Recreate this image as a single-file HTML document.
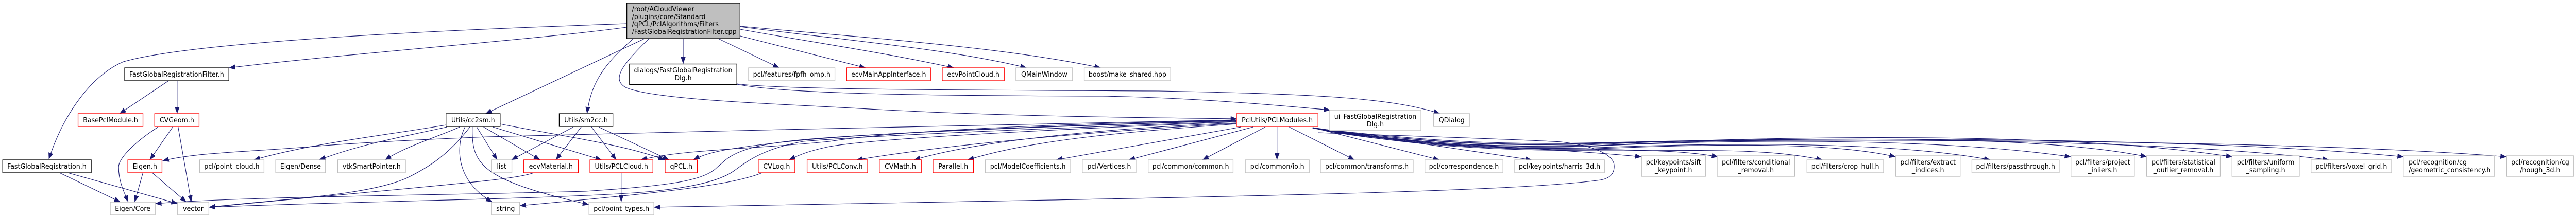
<!DOCTYPE html>
<html><head><meta charset="utf-8"><style>
html,body{margin:0;padding:0;background:#fff;width:100%;height:100%;overflow:hidden}
svg{display:block;position:fixed;left:0;top:0;width:100vw;height:100vh}
text{font-family:"DejaVu Sans",sans-serif;font-size:13.33px;fill:#000;text-anchor:middle}
text.l{text-anchor:start}
.e path{fill:none;stroke:#191970;stroke-width:1.1;marker-end:url(#a)}
rect{fill:#fff;stroke-width:1.33}
.k{stroke:#000}.r{stroke:#f00}.g{stroke:#bfbfbf}
</style></head><body>
<svg xmlns="http://www.w3.org/2000/svg" viewBox="0 0 5279 424" preserveAspectRatio="none">
<defs><marker id="a" markerUnits="userSpaceOnUse" markerWidth="16" markerHeight="12" refX="13" refY="5" orient="auto"><path d="M0,0 L13,5 L0,10 z" fill="#191970"/></marker></defs>
<g class="e">
<path d="M1284 46C1050 54 420 75 253 120C190 145 130 220 100 310"/>
<path d="M1284 53C1100 77 700 105 469 132"/>
<path d="M344 158L245 221"/>
<path d="M363 157L363 221"/>
<path d="M354 247L307 311"/>
<path d="M365 247L392 393"/>
<path d="M324 247C270 280 243 310 243 325C243 350 252 370 263 393"/>
<path d="M293 336L276 393"/>
<path d="M312 336L382 393"/>
<path d="M122 336L247 393"/>
<path d="M139 336L364 396"/>
<path d="M914 243C800 262 640 278 520 311"/>
<path d="M916 247C830 265 740 280 654 311"/>
<path d="M942 247C900 265 830 285 789 311"/>
<path d="M963 247C920 300 880 325 832 347C750 380 600 385 428 403"/>
<path d="M2534 233C2100 244 1500 252 1000 266C800 274 700 280 640 285C520 295 400 296 333 313"/>
<path d="M1175 247L1048 311"/>
<path d="M1191 247L1139 311"/>
<path d="M1212 247L1263 311"/>
<path d="M1227 247L1371 311"/>
<path d="M977 247L1019 311"/>
<path d="M991 247L1107 311"/>
<path d="M1010 247L1233 311"/>
<path d="M1025 241C1120 260 1280 280 1362 311"/>
<path d="M953 247C935 280 930 350 1009 393"/>
<path d="M968 247C966 320 985 350 1207 398"/>
<path d="M1319 76L995 221"/>
<path d="M1297 76C1230 130 1210 170 1203 221"/>
<path d="M1329 76C1270 130 1255 155 1282 170C1340 195 1600 202 1800 213C2050 226 2350 229 2535 231"/>
<path d="M1400 76L1400 124"/>
<path d="M1474 76L1597 132"/>
<path d="M1517 70L1774 132"/>
<path d="M1517 57C1650 80 1800 100 1955 132"/>
<path d="M1517 52C1700 75 1950 95 2104 132"/>
<path d="M1517 51C1750 72 2050 90 2256 132"/>
<path d="M1510 164C1600 180 1800 186 2259 187C2450 190 2620 205 2726 214"/>
<path d="M1510 163C1600 175 2000 175 2374 177C2700 183 2850 190 2951 221"/>
<path d="M2534 234C2200 240 1850 252 1700 275C1550 290 1400 290 1313 311"/>
<path d="M2534 234C2200 244 1800 255 1589 278C1500 288 1450 295 1421 311"/>
<path d="M2534 235C2200 244 1800 258 1640 272C1500 285 1490 310 1470 325C1440 355 1350 362 1200 372C900 380 500 382 318 396"/>
<path d="M2534 236C2200 248 1800 262 1646 275C1560 290 1530 315 1503 333C1470 355 1400 368 1300 375C1100 388 700 392 428 403"/>
<path d="M2534 237C2200 250 1800 268 1700 285C1660 293 1640 300 1617 311"/>
<path d="M2534 240C2250 255 1950 280 1755 311"/>
<path d="M2534 239C2250 250 2000 275 1873 311"/>
<path d="M2534 241C2330 255 2120 270 1983 311"/>
<path d="M2701 258C2800 262 3100 270 3199 276C3280 285 3308 305 3308 323C3308 340 3297 347 3280 350C3100 375 2400 385 1340 403"/>
<path d="M2543 247L2164 311"/>
<path d="M2568 247L2313 311"/>
<path d="M2593 247L2464 311"/>
<path d="M2617 247L2617 311"/>
<path d="M2642 247L2776 311"/>
<path d="M2690 248L2950 311"/>
<path d="M2690 248L3139 311"/>
<path d="M2690 249C2850 280 3150 285 3364 305"/>
<path d="M2690 249C2850 282 3100 290 3250 290C3350 292 3450 292 3521 305"/>
<path d="M2690 249C2900 285 3050 293 3300 293C3500 293 3620 288 3735 311"/>
<path d="M2690 249C2900 282 3050 292 3250 290C3500 280 3750 275 3885 305"/>
<path d="M2690 249C2900 280 3050 291 3250 288C3450 280 3850 270 4079 311"/>
<path d="M2690 249C2900 280 3050 290 3250 285C3500 272 3950 265 4244 305"/>
<path d="M2690 249C2900 278 3050 288 3250 284C3550 270 4150 255 4400 305"/>
<path d="M2690 249C2900 278 3050 288 3250 282C3550 268 4200 250 4575 305"/>
<path d="M2690 249C2900 275 3050 286 3250 280C3600 268 4400 265 4773 311"/>
<path d="M2690 249C2900 275 3050 284 3250 279C3650 265 4500 265 4926 305"/>
<path d="M2690 249C2900 272 3050 282 3250 278C3650 268 4700 270 5137 305"/>
<path d="M1094 336C1050 350 960 355 428 403"/>
<path d="M1562 336C1500 360 1359 375 1065 400"/>
<path d="M1273 336L1273 393"/>
</g>
<rect x="1284.5" y="6" width="232" height="69" style="fill:#bfbfbf;stroke:#000"/>
<text class="l" x="1295" y="22">/root/ACloudViewer</text>
<text class="l" x="1295" y="37">/plugins/core/Standard</text>
<text class="l" x="1295" y="51">/qPCL/PclAlgorithms/Filters</text>
<text class="l" x="1295" y="66">/FastGlobalRegistrationFilter.cpp</text>
<rect class="k" x="5.5" y="311" width="181.5" height="25"/><text x="96" y="328">FastGlobalRegistration.h</text>
<rect class="k" x="255.5" y="132" width="213.5" height="25"/><text x="362" y="149">FastGlobalRegistrationFilter.h</text>
<rect class="r" x="160" y="221" width="133" height="25"/><text x="226.5" y="238">BasePclModule.h</text>
<rect class="r" x="317" y="221" width="91" height="25"/><text x="362.5" y="238">CVGeom.h</text>
<rect class="r" x="262" y="311" width="70" height="25"/><text x="297" y="328">Eigen.h</text>
<rect class="g" x="409" y="311" width="132" height="25"/><text x="475" y="328">pcl/point_cloud.h</text>
<rect class="g" x="565" y="311" width="102" height="25"/><text x="616" y="328">Eigen/Dense</text>
<rect class="g" x="692" y="311" width="139" height="25"/><text x="761.5" y="328">vtkSmartPointer.h</text>
<rect class="g" x="226" y="393" width="92" height="25"/><text x="272" y="410">Eigen/Core</text>
<rect class="g" x="364" y="393" width="64" height="25"/><text x="396" y="410">vector</text>
<rect class="k" x="1290" y="124.500" width="220" height="40"/><text x="1400" y="141">dialogs/FastGlobalRegistration</text><text x="1400" y="156">Dlg.h</text>
<rect class="g" x="1534" y="132" width="177" height="25"/><text x="1622.5" y="149">pcl/features/fpfh_omp.h</text>
<rect class="r" x="1735" y="132" width="172" height="25"/><text x="1821" y="149">ecvMainAppInterface.h</text>
<rect class="k" x="914" y="221" width="111" height="25"/><text x="969.5" y="238">Utils/cc2sm.h</text>
<rect class="k" x="1146" y="221" width="110" height="25"/><text x="1201" y="238">Utils/sm2cc.h</text>
<rect class="g" x="1007" y="311" width="42" height="25"/><text x="1028" y="328">list</text>
<rect class="r" x="1073" y="311" width="112" height="25"/><text x="1129" y="328">ecvMaterial.h</text>
<rect class="r" x="1209" y="311" width="129" height="25"/><text x="1273.5" y="328">Utils/PCLCloud.h</text>
<rect class="r" x="1363" y="311" width="66" height="25"/><text x="1396" y="328">qPCL.h</text>
<rect class="r" x="1554" y="311" width="75" height="25"/><text x="1591.5" y="328">CVLog.h</text>
<rect class="r" x="1654" y="311" width="124" height="25"/><text x="1716" y="328">Utils/PCLConv.h</text>
<rect class="g" x="1007" y="393" width="58" height="25"/><text x="1036" y="410">string</text>
<rect class="g" x="1207" y="393" width="133" height="25"/><text x="1273.5" y="410">pcl/point_types.h</text>
<rect class="r" x="1931" y="132" width="127" height="25"/><text x="1994.5" y="149">ecvPointCloud.h</text>
<rect class="g" x="2082" y="132" width="116" height="25"/><text x="2140" y="149">QMainWindow</text>
<rect class="g" x="2222" y="132" width="177" height="25"/><text x="2310.5" y="149">boost/make_shared.hpp</text>
<rect class="r" x="2534" y="221" width="167" height="25"/><text x="2617.5" y="238">PclUtils/PCLModules.h</text>
<rect class="r" x="1802" y="311" width="86" height="25"/><text x="1845" y="328">CVMath.h</text>
<rect class="r" x="1912" y="311" width="83" height="25"/><text x="1953.5" y="328">Parallel.h</text>
<rect class="g" x="2019" y="311" width="175" height="25"/><text x="2106.5" y="328">pcl/ModelCoefficients.h</text>
<rect class="g" x="2218" y="311" width="110" height="25"/><text x="2273" y="328">pcl/Vertices.h</text>
<rect class="g" x="2353" y="311" width="174" height="25"/><text x="2440" y="328">pcl/common/common.h</text>
<rect class="g" x="2552" y="311" width="131" height="25"/><text x="2617.5" y="328">pcl/common/io.h</text>
<rect class="g" x="2725" y="214" width="187" height="40"/><text x="2818.500" y="231">ui_FastGlobalRegistration</text><text x="2818.500" y="246">Dlg.h</text>
<rect class="g" x="2938" y="221" width="74" height="25"/><text x="2975" y="238">QDialog</text>
<rect class="g" x="2706" y="311" width="190" height="25"/><text x="2801" y="328">pcl/common/transforms.h</text>
<rect class="g" x="2920" y="311" width="160" height="25"/><text x="3000" y="328">pcl/correspondence.h</text>
<rect class="g" x="3104" y="311" width="184" height="25"/><text x="3196" y="328">pcl/keypoints/harris_3d.h</text>
<rect class="g" x="3364" y="303" width="131" height="40"/><text x="3429.500" y="320">pcl/keypoints/sift</text><text x="3429.500" y="335">_keypoint.h</text>
<rect class="g" x="3519" y="303" width="159" height="40"/><text x="3598.500" y="320">pcl/filters/conditional</text><text x="3598.500" y="335">_removal.h</text>
<rect class="g" x="3703" y="311" width="157" height="25"/><text x="3781.500" y="328">pcl/filters/crop_hull.h</text>
<rect class="g" x="3885" y="303" width="132" height="40"/><text x="3951" y="320">pcl/filters/extract</text><text x="3951" y="335">_indices.h</text>
<rect class="g" x="4041" y="311" width="179" height="25"/><text x="4130.500" y="328">pcl/filters/passthrough.h</text>
<rect class="g" x="4244" y="303" width="130" height="40"/><text x="4309" y="320">pcl/filters/project</text><text x="4309" y="335">_inliers.h</text>
<rect class="g" x="4399" y="303" width="151" height="40"/><text x="4474.500" y="320">pcl/filters/statistical</text><text x="4474.500" y="335">_outlier_removal.h</text>
<rect class="g" x="4574" y="303" width="138" height="40"/><text x="4643" y="320">pcl/filters/uniform</text><text x="4643" y="335">_sampling.h</text>
<rect class="g" x="4736" y="311" width="165" height="25"/><text x="4818.500" y="328">pcl/filters/voxel_grid.h</text>
<rect class="g" x="4925" y="303" width="187" height="40"/><text class="l" x="4936" y="320">pcl/recognition/cg</text><text class="l" x="4936" y="335">/geometric_consistency.h</text>
<rect class="g" x="5137" y="303" width="137" height="40"/><text x="5205.500" y="320">pcl/recognition/cg</text><text x="5205.500" y="335">/hough_3d.h</text>
</svg>
</body></html>
